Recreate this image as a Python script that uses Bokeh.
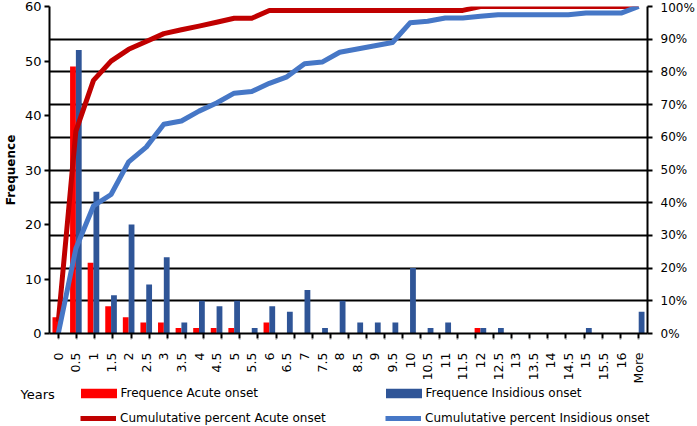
import math
from bokeh.plotting import figure
from bokeh.layouts import column
from bokeh.models import (FactorRange, Range1d, LinearAxis, CategoricalAxis, FixedTicker,
                          PrintfTickFormatter, Grid, Legend, LegendItem, Label, ColumnDataSource)
from bokeh.transform import dodge
from bokeh.embed import file_html
from bokeh.resources import INLINE

# ---------------- data ----------------
years = ["0", "0.5", "1", "1.5", "2", "2.5", "3", "3.5", "4", "4.5", "5", "5.5", "6", "6.5",
         "7", "7.5", "8", "8.5", "9", "9.5", "10", "10.5", "11", "11.5", "12", "12.5", "13",
         "13.5", "14", "14.5", "15", "15.5", "16", "More"]
acute_freq = [3, 49, 13, 5, 3, 2, 2, 1, 1, 1, 1, 0, 2, 0, 0, 0, 0, 0, 0, 0, 0, 0, 0, 0,
              1, 0, 0, 0, 0, 0, 0, 0, 0, 0]
insidious_freq = [0, 52, 26, 7, 20, 9, 14, 2, 6, 5, 6, 1, 5, 4, 8, 1, 6, 2, 2, 2, 12, 1, 2, 0,
                  1, 1, 0, 0, 0, 0, 1, 0, 0, 4]
acute_cum_pct = [3.6, 61.9, 77.4, 83.3, 86.9, 89.3, 91.7, 92.9, 94.0, 95.2, 96.4, 96.4, 98.8,
                 98.8, 98.8, 98.8, 98.8, 98.8, 98.8, 98.8, 98.8, 98.8, 98.8, 98.8, 100, 100,
                 100, 100, 100, 100, 100, 100, 100, 100]
insidious_cum_pct = [0, 26, 39, 42.5, 52.5, 57, 64, 65, 68, 70.5, 73.5, 74, 76.5, 78.5, 82.5,
                     83, 86, 87, 88, 89, 95, 95.5, 96.5, 96.5, 97, 97.5, 97.5, 97.5, 97.5,
                     97.5, 98, 98, 98, 100]
freq_ticks = [0, 10, 20, 30, 40, 50, 60]
pct_ticks = [0, 10, 20, 30, 40, 50, 60, 70, 80, 90, 100]
labels = ["Frequence Acute onset", "Cumulutative percent Acute onset",
          "Frequence Insidious onset", "Cumulutative percent Insidious onset"]

FONT = "DejaVu Sans"
RED = "#FF0000"
DARK_BLUE = "#2F5597"
DARK_RED = "#C00000"
LIGHT_BLUE = "#4677C6"
W = 697
MAIN_H = 386
LEG_H = 40

src = ColumnDataSource(dict(year=years, acute=acute_freq, insid=insidious_freq,
                            acute_cum=acute_cum_pct, insid_cum=insidious_cum_pct))

# ---------------- main chart ----------------
p = figure(width=W, height=MAIN_H, output_backend="svg", toolbar_location=None,
           x_range=FactorRange(factors=years, range_padding=0), y_range=Range1d(0, 60),
           x_axis_location=None, y_axis_location="left",
           min_border_left=47, min_border_right=47, min_border_top=6, min_border_bottom=44)
p.frame_align = False
# categorical range whose factor centres fall on the category boundaries (tick marks)
edge_factors = ["e%d" % i for i in range(len(years) + 1)]
p.extra_x_ranges = {"edges": FactorRange(factors=edge_factors, range_padding=-1,
                                         range_padding_units="absolute")}
p.extra_y_ranges = {"pct": Range1d(0, 100)}
p.outline_line_color = None
p.grid.visible = False

p.add_layout(Grid(dimension=1, y_range_name="pct", ticker=FixedTicker(ticks=pct_ticks),
                  grid_line_color="black", grid_line_width=2))

p.vbar(x=dodge("year", -0.165, range=p.x_range), top="acute", width=0.33,
       source=src, fill_color=RED, line_color=None)
p.vbar(x=dodge("year", 0.165, range=p.x_range), top="insid", width=0.33,
       source=src, fill_color=DARK_BLUE, line_color=None)
p.line("year", "acute_cum", source=src, y_range_name="pct", line_color=DARK_RED,
       line_width=5, line_join="round")
p.line("year", "insid_cum", source=src, y_range_name="pct", line_color=LIGHT_BLUE,
       line_width=5, line_join="round")

# left axis
ya = p.yaxis[0]
ya.ticker = FixedTicker(ticks=freq_ticks)
ya.axis_label = "Frequence"
ya.axis_label_text_font = FONT
ya.axis_label_text_font_style = "bold"
ya.axis_label_text_font_size = "12px"
ya.axis_label_text_color = "black"
ya.axis_label_standoff = 4
ya.major_label_standoff = 3
ya.major_label_text_font = FONT
ya.major_label_text_font_size = "13px"
ya.major_label_text_color = "black"
ya.axis_line_width = 2
ya.axis_line_color = "black"
ya.major_tick_line_color = "black"
ya.major_tick_line_width = 2
ya.major_tick_in = 0
ya.major_tick_out = 5
ya.minor_tick_line_color = None

# right axis
ra = LinearAxis(y_range_name="pct", ticker=FixedTicker(ticks=pct_ticks),
                formatter=PrintfTickFormatter(format="%d%%"))
ra.major_label_text_font = FONT
ra.major_label_text_font_size = "12px"
ra.major_label_text_color = "black"
ra.major_label_standoff = 8
ra.axis_line_width = 2
ra.axis_line_color = "black"
ra.major_tick_line_color = "black"
ra.major_tick_line_width = 2
ra.major_tick_in = 0
ra.major_tick_out = 5
ra.minor_tick_line_color = None
p.add_layout(ra, "right")

# bottom: tick marks between categories
ea = CategoricalAxis(x_range_name="edges")
ea.axis_line_width = 2
ea.axis_line_color = "black"
ea.major_tick_line_color = "black"
ea.major_tick_line_width = 2
ea.major_tick_in = 0
ea.major_tick_out = 5
ea.major_label_overrides = {f: "" for f in edge_factors}
ea.major_label_text_font_size = "1px"
ea.major_label_standoff = 0
p.add_layout(ea, "below")

ca = CategoricalAxis()
ca.axis_line_color = None
ca.major_tick_line_color = None
ca.minor_tick_line_color = None
ca.major_label_orientation = math.pi / 2
ca.major_label_standoff = 4
ca.major_label_text_font = FONT
ca.major_label_text_font_size = "12.5px"
ca.major_label_text_color = "black"
p.add_layout(ca, "below")

# ---------------- legend strip ----------------
lg = figure(width=W, height=LEG_H, output_backend="svg", toolbar_location=None,
            x_range=Range1d(0, W), y_range=Range1d(0, LEG_H),
            x_axis_location=None, y_axis_location=None,
            min_border_left=0, min_border_right=0, min_border_top=0, min_border_bottom=0)
lg.frame_align = False
lg.grid.visible = False
lg.outline_line_color = None

# zero-size proxy glyphs that only carry the legend swatch styles
sw_a = lg.vbar(x=[0], top=[0], width=0, fill_color=RED, line_color=None)
sw_ac = lg.line(x=[0], y=[0], line_color=DARK_RED, line_width=5)
sw_i = lg.vbar(x=[0], top=[0], width=0, fill_color=DARK_BLUE, line_color=None)
sw_ic = lg.line(x=[0], y=[0], line_color=LIGHT_BLUE, line_width=5)

def make_legend(item, loc, bar):
    # bar swatches are drawn inset by 10% on each side, so their box is made larger
    return Legend(items=[item], location=loc, padding=0, margin=0, spacing=0,
                  glyph_width=45 if bar else 36, glyph_height=12 if bar else 10,
                  label_height=14, label_standoff=0 if bar else 4,
                  border_line_color=None, background_fill_alpha=0,
                  label_text_font=FONT, label_text_font_size="12px", label_text_color="black")

lg.add_layout(make_legend(LegendItem(label=labels[0], renderers=[sw_a]), (75.5, 26), True))
lg.add_layout(make_legend(LegendItem(label=labels[1], renderers=[sw_ac]), (80, 1), False))
lg.add_layout(make_legend(LegendItem(label=labels[2], renderers=[sw_i]), (380.5, 26), True))
lg.add_layout(make_legend(LegendItem(label=labels[3], renderers=[sw_ic]), (385, 1), False))
lg.add_layout(Label(x=20, y=32, text="Years", text_font=FONT, text_font_size="13px",
                    text_baseline="middle", text_color="black"))

layout = column(p, lg, spacing=0)
open("out.html", "w").write(file_html(layout, INLINE))
